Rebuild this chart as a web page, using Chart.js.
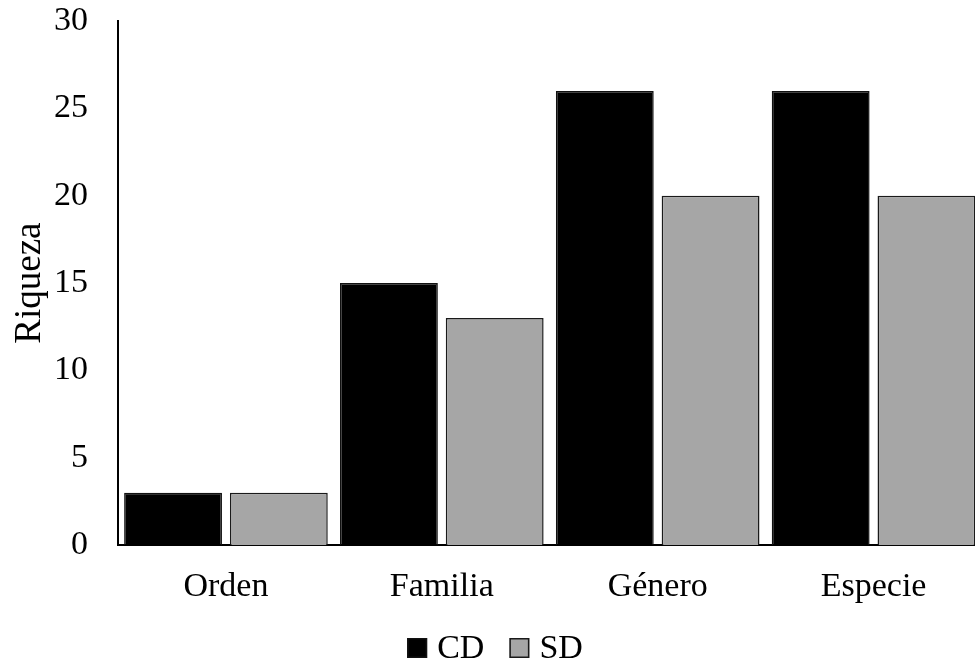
<!DOCTYPE html>
<html>
<head>
<meta charset="utf-8">
<script src="https://cdn.jsdelivr.net/npm/chart.js@4.4.1/dist/chart.umd.min.js"></script>
<style>
  html, body { margin: 0; padding: 0; background: #fff; overflow: hidden; }
  #wrap { position: relative; width: 990px; height: 666px; }
</style>
</head>
<body>
<div id="wrap"><canvas id="chart"></canvas></div>
<script>
// Riqueza por nivel taxonómico
const categories = ['Orden', 'Familia', 'Género', 'Especie'];
const seriesNames = ['CD', 'SD'];
const cdValues = [3, 15, 26, 26];
const sdValues = [3, 13, 20, 20];
const yTicks = [0, 5, 10, 15, 20, 25, 30];

const serif = 'Liberation Serif, "Times New Roman", serif';
const fillColors = ['#000000', '#a6a6a6'];
const edgeColors = ['#111111', '#1a1a1a'];

// Legend drawn below the axis: square swatch, then the series name
const bottomLegend = {
  id: 'bottomLegend',
  afterDraw(chart) {
    const ctx = chart.ctx;
    const box = 20, gap = 10, between = 25, cy = 648;
    ctx.save();
    ctx.font = '34px ' + serif;
    ctx.textBaseline = 'middle';
    const items = chart.data.datasets.map(ds => ({
      text: ds.label, fill: ds.backgroundColor, edge: ds.borderColor,
      w: box + gap + ctx.measureText(ds.label).width
    }));
    const total = items.reduce((s, it) => s + it.w, 0) + between * (items.length - 1);
    let x = chart.width / 2 - total / 2;
    items.forEach(it => {
      ctx.fillStyle = it.fill;
      ctx.fillRect(x, cy - box / 2, box, box);
      ctx.strokeStyle = it.edge;
      ctx.lineWidth = 1.5;
      ctx.strokeRect(x + 0.75, cy - box / 2 + 0.75, box - 1.5, box - 1.5);
      ctx.fillStyle = '#000';
      ctx.fillText(it.text, x + box + gap, cy + 1);
      x += it.w + between;
    });
    ctx.restore();
  }
};

new Chart(document.getElementById('chart'), {
  type: 'bar',
  data: {
    labels: categories,
    datasets: [
      {
        label: seriesNames[0],
        data: cdValues,
        backgroundColor: fillColors[0],
        borderColor: edgeColors[0],
        borderWidth: 1.5
      },
      {
        label: seriesNames[1],
        data: sdValues,
        backgroundColor: fillColors[1],
        borderColor: edgeColors[1],
        borderWidth: 1.5
      }
    ]
  },
  plugins: [bottomLegend],
  options: {
    responsive: true,
    maintainAspectRatio: false,
    animation: false,
    datasets: {
      bar: { categoryPercentage: 0.98, barPercentage: 0.925 }
    },
    layout: { padding: { top: 0, right: 8.5, left: 0, bottom: 38 } },
    plugins: {
      tooltip: { enabled: false },
      legend: { display: false }
    },
    scales: {
      x: {
        grid: { display: false, drawTicks: false },
        border: { display: true, color: '#000', width: 2 },
        ticks: {
          color: '#000',
          font: { family: serif, size: 34 },
          padding: 21
        }
      },
      y: {
        min: 0,
        max: 30,
        afterBuildTicks: (scale) => { scale.ticks = yTicks.map(v => ({ value: v })); },
        afterFit: (scale) => {
          scale.width = 118;
          scale.paddingTop = 21;
          scale.paddingBottom = 0;
        },
        grid: { display: false, drawTicks: false },
        border: { display: true, color: '#000', width: 2 },
        ticks: {
          color: '#000',
          font: { family: serif, size: 34 },
          padding: 30
        },
        title: {
          display: true,
          text: 'Riqueza',
          color: '#000',
          font: { family: serif, size: 37 },
          padding: { top: 8, bottom: 0 }
        }
      }
    }
  }
});
</script>
</body>
</html>
